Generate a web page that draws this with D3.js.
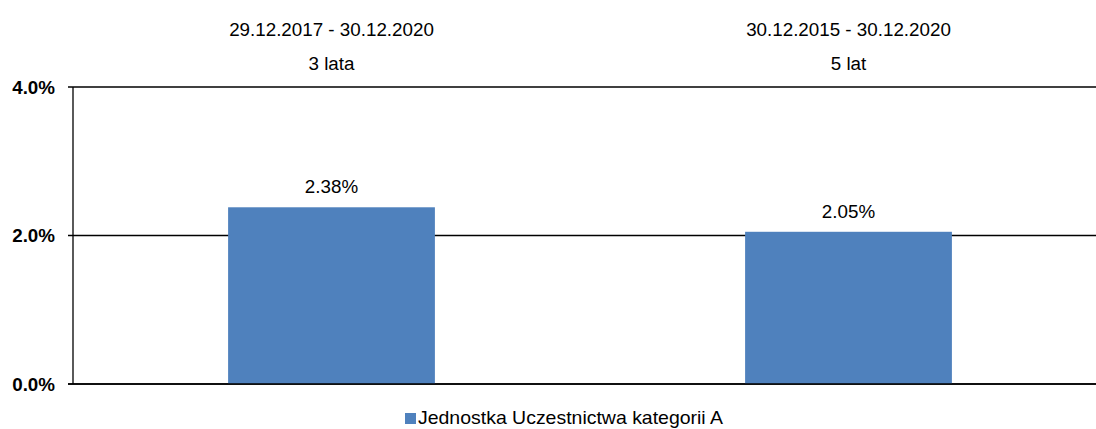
<!DOCTYPE html>
<html><head><meta charset="utf-8">
<script src="https://cdn.jsdelivr.net/npm/d3@7"></script>
<style>body{margin:0;background:#fff}svg{display:block;font-family:"Liberation Sans",Arial,sans-serif}</style>
</head><body><svg id="c" width="1096" height="429"></svg>
<script>
const periods = ["29.12.2017 - 30.12.2020", "30.12.2015 - 30.12.2020"];
const periodNames = ["3 lata", "5 lat"];
const values = [2.38, 2.05];
const valueLabels = ["2.38%", "2.05%"];
const yTicks = [0, 2, 4];
const yTickLabels = ["0.0%", "2.0%", "4.0%"];
const seriesName = "Jednostka Uczestnictwa kategorii A";

const svg = d3.select("#c");
const x0 = 73, x1 = 1107, yBottom = 384, yTop = 87;
const x = d3.scaleBand().domain(periods).range([x0, x1]).paddingInner(0.6).paddingOuter(0.3);
const y = d3.scaleLinear().domain([0, 4]).range([yBottom, yTop]);
const color = "#4f81bd";

// gridlines
svg.append("g").selectAll("line").data(yTicks).join("line")
  .attr("x1", x0 - 5).attr("x2", 1096)
  .attr("y1", d => y(d)).attr("y2", d => y(d))
  .attr("stroke", "#000").attr("stroke-width", 1.3);

// bars
svg.append("g").selectAll("rect").data(values).join("rect")
  .attr("x", (d, i) => x(periods[i]))
  .attr("width", x.bandwidth())
  .attr("y", d => y(d))
  .attr("height", d => y(0) - y(d))
  .attr("fill", color);

// baseline over bars
svg.append("line").attr("x1", x0 - 5).attr("x2", 1096).attr("y1", y(0)).attr("y2", y(0))
  .attr("stroke", "#000").attr("stroke-width", 1.3);

// y axis line
svg.append("line").attr("x1", x0).attr("x2", x0).attr("y1", y(4)).attr("y2", y(0))
  .attr("stroke", "#000").attr("stroke-width", 1.3);

// tick labels
svg.append("g").selectAll("text").data(yTicks).join("text")
  .attr("x", 55).attr("y", d => y(d) + 6.5)
  .attr("text-anchor", "end")
  .attr("font-weight", "bold").attr("font-size", 18.8)
  .text((d, i) => yTickLabels[i]);

// value labels
svg.append("g").selectAll("text").data(values).join("text")
  .attr("x", (d, i) => x(periods[i]) + x.bandwidth() / 2)
  .attr("y", d => y(d) - 14)
  .attr("text-anchor", "middle").attr("font-size", 18.8)
  .text((d, i) => valueLabels[i]);

// top labels
svg.append("g").selectAll("text").data(periods).join("text")
  .attr("x", d => x(d) + x.bandwidth() / 2).attr("y", 36)
  .attr("text-anchor", "middle").attr("font-size", 18.8)
  .text(d => d);
svg.append("g").selectAll("text").data(periodNames).join("text")
  .attr("x", (d, i) => x(periods[i]) + x.bandwidth() / 2).attr("y", 70)
  .attr("text-anchor", "middle").attr("font-size", 18.8)
  .text(d => d);

// legend
svg.append("rect").attr("x", 405).attr("y", 413).attr("width", 11).attr("height", 11).attr("fill", color);
svg.append("text").attr("x", 418).attr("y", 424).attr("font-size", 18.5).attr("textLength", 305).attr("lengthAdjust", "spacingAndGlyphs").text(seriesName);
</script></body></html>
